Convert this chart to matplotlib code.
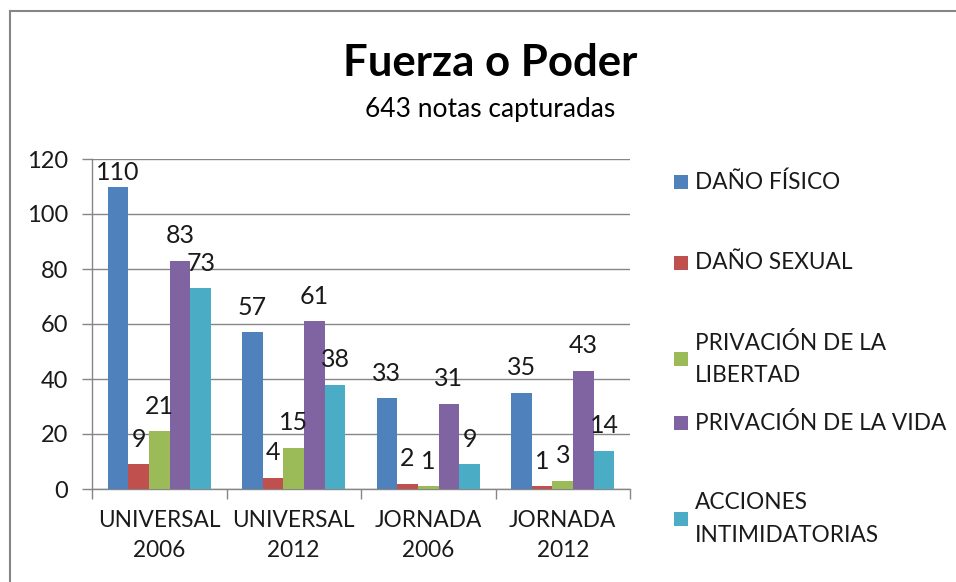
import matplotlib
matplotlib.use("Agg")
import matplotlib.pyplot as plt
import numpy as np
from matplotlib.patches import Rectangle

plt.rcParams['font.family'] = ['Lato', 'DejaVu Sans']

categories = ["UNIVERSAL\n2006", "UNIVERSAL\n2012", "JORNADA\n2006", "JORNADA\n2012"]
series_names = ["DAÑO FÍSICO", "DAÑO SEXUAL", "PRIVACIÓN DE LA\nLIBERTAD",
                "PRIVACIÓN DE LA VIDA", "ACCIONES\nINTIMIDATORIAS"]
dano_fisico = [110, 57, 33, 35]
dano_sexual = [9, 4, 2, 1]
privacion_libertad = [21, 15, 1, 3]
privacion_vida = [83, 61, 31, 43]
acciones_intimidatorias = [73, 38, 9, 14]
series_values = [dano_fisico, dano_sexual, privacion_libertad, privacion_vida, acciones_intimidatorias]
colors = ["#4F81BD", "#C0504D", "#9BBB59", "#8064A2", "#4BACC6"]
yticks = [0, 20, 40, 60, 80, 100, 120]

W, H = 956, 582
fig = plt.figure(figsize=(W / 100, H / 100), dpi=100)

# chart border (only top and left visible)
fig.add_artist(plt.Line2D([10 / W, 10 / W], [0, 1 - 11 / H], transform=fig.transFigure,
                          color="#868686", lw=1.5))
fig.add_artist(plt.Line2D([10 / W, 1], [1 - 11 / H, 1 - 11 / H], transform=fig.transFigure,
                          color="#868686", lw=1.5))

ax = fig.add_axes([92 / W, 1 - 489 / H, (630 - 92) / W, (489 - 159) / H])
n = len(series_values)
bw = 1 / 6.5
x = np.arange(len(categories))
fs = 16.3
nfs = 18
ymax = 120
px_per_unit = (489 - 159) / ymax
for i, (vals, c) in enumerate(zip(series_values, colors)):
    pos = x + (i - (n - 1) / 2) * bw
    ax.bar(pos, vals, width=bw, color=c, zorder=3, linewidth=0)
    for p, v in zip(pos, vals):
        # label centre ~25px above bar, kept inside the plot area
        ly = min(v + 25 / px_per_unit, ymax - 14 / px_per_unit)
        ax.text(p, ly, str(v), ha="center", va="center", fontsize=nfs,
                color="#1a1a1a", zorder=4)

ax.set_xlim(-0.5, len(categories) - 0.5)
ax.set_ylim(0, ymax)
ax.set_yticks(yticks)
ax.set_yticklabels([str(v) for v in yticks], fontsize=17, color="#1a1a1a")
ax.yaxis.grid(True, color="#868686", lw=1, zorder=0)
ax.set_axisbelow(True)
ax.set_xticks(x)
ax.set_xticklabels(categories, fontsize=fs, color="#1a1a1a", linespacing=1.55)
ax.tick_params(axis="x", length=0, pad=15)
ax.set_xticks(np.arange(len(categories) + 1) - 0.5, minor=True)
ax.tick_params(axis="x", which="minor", length=7, color="#868686", width=1)
ax.tick_params(axis="y", length=7, color="#868686", width=1, pad=10)
for s in ["top", "right"]:
    ax.spines[s].set_visible(False)
for s in ["left", "bottom"]:
    ax.spines[s].set_color("#868686")
    ax.spines[s].set_linewidth(1)

fig.text(490 / W, 1 - 63 / H, "Fuerza o Poder", ha="center", va="center",
         fontsize=31.5, fontweight="bold", color="#000000")
fig.text(490 / W, 1 - 109 / H, "643 notas capturadas", ha="center", va="center",
         fontsize=19, color="#000000")

# legend
leg_y = [182, 263, 359, 423, 519]
for name, c, yy in zip(series_names, colors, leg_y):
    fig.add_artist(Rectangle((674 / W, 1 - (yy + 7) / H), 14 / W, 14 / H,
                             transform=fig.transFigure, color=c, lw=0))
    fig.text(695 / W, 1 - yy / H, name, ha="left", va="center", fontsize=fs,
             color="#1a1a1a", linespacing=1.65)

fig.savefig("out.png", dpi=100)
